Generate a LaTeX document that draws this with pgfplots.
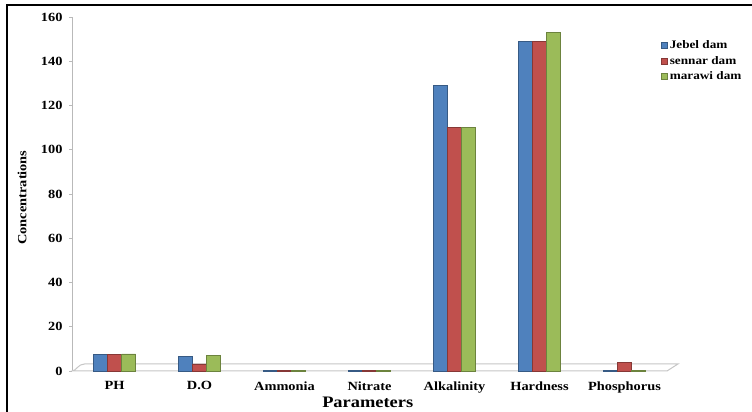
\documentclass[border=0pt]{standalone}
\usepackage{pgfplots}
\usepackage{pgfplotstable}
\pgfplotsset{compat=1.18}
\usepackage{fontspec}
\setmainfont{Liberation Serif}[FakeStretch=1.15]

\definecolor{jebel}{HTML}{4F81BD}
\definecolor{sennar}{HTML}{C0504D}
\definecolor{marawi}{HTML}{9BBB59}

% Water-quality parameters measured at three dams
\pgfplotstableread{
idx Jebel Sennar Marawi
0   7.6   7.4    7.7
1   6.5   3.2    7.2
2   0.4   0.4    0.3
3   0.2   0.2    0.2
4   129   110    110
5   149   149    153
6   0.3   4.0    0.2
}\damdata

\newcommand{\lblfont}{\bfseries\fontsize{12.5}{14}\selectfont}

% bar style for one dam colour
\tikzset{cyl/.style={draw=#1!70!black, line width=0.5pt, fill=#1}}

\begin{document}
\begin{tikzpicture}
\useasboundingbox (0,0) rectangle (752pt,412pt);
\draw[line width=2pt] (7pt,0) -- (7pt,407pt) -- (753pt,407pt);
\begin{axis}[
  at={(72pt,41pt)}, anchor=south west,
  scale only axis, width=595pt, height=354pt,
  clip=false,
  xmin=-0.5, xmax=6.5, ymin=0, ymax=160,
  ytick={0,20,...,160},
  xtick={0,...,6},
  xticklabels={PH,D.O,Ammonia,Nitrate,Alkalinity,Hardness,Phosphorus},
  axis x line*=bottom,
  axis y line*=left,
  x axis line style={draw=none},
  y axis line style={draw=gray!55, line width=1pt, -},
  tick align=outside,
  major tick length=3pt,
  ytick style={draw=gray!55, line width=0.8pt},
  xtick style={draw=none},
  /pgf/number format/assume math mode=true,
  ticklabel style={font=\lblfont},
  xticklabel style={yshift=-4pt},
  yticklabel style={xshift=-3pt},
  ylabel={Concentrations},
  ylabel style={at={(axis description cs:-0.084,0.49)}, anchor=center, font=\lblfont},
  xlabel={Parameters},
  xlabel style={at={(axis description cs:0.497,-0.088)}, anchor=center, font=\bfseries\fontsize{16}{18}\selectfont},
  ybar=0pt, bar width=0.165,
  legend style={at={(rel axis cs:0.985,0.945)}, anchor=north west, draw=none, fill=none,
    font=\bfseries\fontsize{11.5}{13}\selectfont, row sep=2pt, cells={anchor=west}},
  legend image code/.code={\fill[#1] (0pt,-3pt) rectangle (6pt,3pt);},
]
% floor of the plot area
\draw[gray!45, line width=1pt, fill=white]
  (axis cs:-0.5,0) .. controls (axis cs:-0.45,0) and (axis cs:-0.43,3.2) .. (axis cs:-0.35,3.2)
  -- (axis cs:6.63,3.2) -- (axis cs:6.5,0) -- cycle;
\addplot[cyl=jebel]  table[x=idx, y=Jebel]{\damdata};
\addplot[cyl=sennar] table[x=idx, y=Sennar]{\damdata};
\addplot[cyl=marawi] table[x=idx, y=Marawi]{\damdata};
\legend{Jebel dam, sennar dam, marawi dam}
\end{axis}
\end{tikzpicture}
\end{document}
